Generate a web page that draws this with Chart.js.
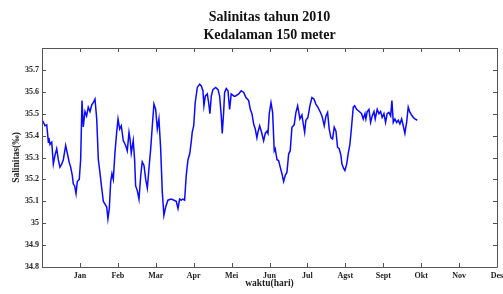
<!DOCTYPE html>
<html>
<head>
<meta charset="utf-8">
<script src="https://cdn.jsdelivr.net/npm/chart.js@4"></script>
<style>
  body { margin: 0; background: #fff; }
</style>
</head>
<body>
<canvas id="salinitas" width="503" height="294"></canvas>
<script>
"use strict";

const days = [
    0.6, 2.4, 3.8, 4.3, 5.1, 5.6, 6.4, 7.8, 9.1, 10.4, 11.8, 13.1, 14.4, 15.8, 17.1, 19.0, 20.3, 21.9, 23.0, 24.3,
    25.1, 26.2, 27.3, 28.3, 29.9, 31.0, 32.1, 33.1, 34.5, 35.8, 37.1, 38.5, 39.9, 41.1, 42.5, 43.9, 45.2, 46.5, 47.9, 49.2,
    51.9, 52.9, 54.0, 55.1, 56.1, 57.2, 58.5, 59.9, 61.0, 62.3, 63.6, 65.2, 67.1, 68.4, 69.8, 70.6, 71.6, 73.2, 74.3, 75.1,
    76.4, 77.8, 79.2, 80.4, 81.8, 83.2, 84.5, 85.8, 87.2, 88.5, 89.8, 91.2, 92.5, 93.8, 95.2, 96.5, 97.8, 99.2, 101.0,
    103.6, 105.9, 107.7, 109.1, 110.4, 111.7, 113.1, 114.4, 115.7, 117.1, 118.5, 119.7, 120.5, 121.7, 122.9, 124.6, 126.5,
    127.8, 129.1, 129.9, 131.0, 132.6, 133.7, 134.7, 135.8, 137.1, 139.3, 141.2, 142.5, 143.8, 144.6, 145.7, 146.5, 147.8,
    149.2, 150.5, 151.8, 154.0,
    155.0, 157.8, 159.8, 161.8, 163.6, 165.8, 167.1, 168.4, 169.8, 171.1, 172.4, 173.2, 174.6, 175.9, 177.8, 179.1, 180.5,
    181.3, 182.3, 183.7, 185.0, 186.3, 187.1, 188.5, 189.8, 191.1, 192.5, 193.8, 195.1, 196.5, 197.9, 199.1, 200.5, 202.3,
    203.7, 205.1,
    205.9, 206.9, 208.5, 209.6, 210.7, 211.7, 213.3, 214.9, 216.5, 218.1, 219.7, 221.4, 223.0, 224.6, 226.4, 227.8, 229.1,
    230.4, 231.8, 233.1, 234.4, 235.8, 237.1, 238.4, 239.8, 240.6, 242.0, 243.0, 244.4, 245.7, 247.0, 248.4, 249.7, 250.8,
    252.4, 254.5,
    256.4, 257.7, 259.1, 259.8, 260.9, 262.3, 263.6, 264.9, 266.3, 267.3, 268.9, 270.3, 271.6, 272.9, 274.3, 275.6, 276.9,
    278.3, 279.7, 280.7, 281.8, 283.1, 284.5, 285.8, 287.1, 288.5, 289.8, 291.1, 292.5, 293.8, 295.2, 296.5, 297.8, 299.2,
    301.0
];

const salinity = [
    35.468, 35.445, 35.449, 35.42, 35.37, 35.39, 35.36, 35.37, 35.27, 35.31, 35.34, 35.29, 35.256, 35.27, 35.29, 35.355, 35.32, 35.276, 35.256, 35.218,
    35.18, 35.17, 35.135, 35.19, 35.20, 35.29, 35.56, 35.44, 35.51, 35.49, 35.53, 35.51, 35.54, 35.55, 35.567, 35.476, 35.29, 35.23, 35.16, 35.10,
    35.074, 35.02, 35.067, 35.19, 35.226, 35.20, 35.32, 35.415, 35.476, 35.43, 35.445, 35.377, 35.355, 35.33, 35.415, 35.385, 35.32, 35.377, 35.29, 35.17,
    35.15, 35.11, 35.218, 35.28, 35.264, 35.20, 35.16, 35.25, 35.34, 35.445, 35.544, 35.52, 35.43, 35.476, 35.34, 35.142, 35.036, 35.074, 35.105,
    35.11, 35.105, 35.10, 35.067, 35.11, 35.105, 35.11, 35.105, 35.218, 35.29, 35.317, 35.37, 35.415, 35.445, 35.55, 35.62, 35.635,
    35.627, 35.605, 35.536, 35.58, 35.59, 35.55, 35.50, 35.58, 35.61, 35.62, 35.61, 35.58, 35.49, 35.41, 35.506, 35.597, 35.615,
    35.605, 35.52, 35.59, 35.58,
    35.58, 35.59, 35.605, 35.597, 35.574, 35.56, 35.52, 35.50, 35.453, 35.43, 35.39, 35.415, 35.445, 35.42, 35.377, 35.41, 35.42,
    35.41, 35.50, 35.55, 35.506, 35.33, 35.34, 35.29, 35.286, 35.256, 35.226, 35.19, 35.218, 35.233, 35.317, 35.33, 35.438, 35.449,
    35.506, 35.536,
    35.51, 35.476, 35.494, 35.453, 35.415, 35.47, 35.483, 35.536, 35.574, 35.567, 35.544, 35.529, 35.51, 35.49, 35.445, 35.49, 35.506,
    35.43, 35.39, 35.385, 35.438, 35.42, 35.347, 35.34, 35.31, 35.27, 35.25, 35.24, 35.27, 35.32, 35.36, 35.445, 35.53, 35.536,
    35.52, 35.51,
    35.50, 35.476, 35.50, 35.476, 35.51, 35.52, 35.46, 35.49, 35.51, 35.476, 35.52, 35.50, 35.51, 35.483, 35.50, 35.46, 35.50,
    35.506, 35.49, 35.56, 35.46, 35.476, 35.46, 35.47, 35.453, 35.476, 35.445, 35.41, 35.46, 35.53, 35.506, 35.494, 35.483, 35.476,
    35.47
];

const monthLabels = ["", "Jan", "Feb", "Mar", "Apr", "Mei", "Jun", "Jul", "Agst", "Sept", "Okt", "Nov", "Des"];
const yTicks = [34.8, 34.9, 35, 35.1, 35.2, 35.3, 35.4, 35.5, 35.6, 35.7, 35.8];

const YEAR_DAYS = 365;
const serif = "'Liberation Serif', 'Times New Roman', serif";

function monthTicks() {
    return monthLabels.map((label, i) => ({ value: i * YEAR_DAYS / 12 }));
}

// matlab style box with ticks pointing inwards
const boxTicks = {
    id: "boxTicks",
    afterDraw(chart) {
        const { ctx, chartArea: a, scales } = chart;
        const len = 4;
        ctx.save();
        ctx.strokeStyle = "#555";
        ctx.lineWidth = 1;
        ctx.beginPath();
        ctx.rect(a.left + 0.5, a.top + 0.5, a.right - a.left, a.bottom - a.top);
        scales.x.ticks.forEach(t => {
            const px = Math.round(scales.x.getPixelForValue(t.value)) + 0.5;
            ctx.moveTo(px, a.bottom);
            ctx.lineTo(px, a.bottom - len);
            ctx.moveTo(px, a.top);
            ctx.lineTo(px, a.top + len);
        });
        scales.y.ticks.forEach(t => {
            const py = Math.round(scales.y.getPixelForValue(t.value)) + 0.5;
            ctx.moveTo(a.left, py);
            ctx.lineTo(a.left + len, py);
            ctx.moveTo(a.right, py);
            ctx.lineTo(a.right - len, py);
        });
        ctx.stroke();
        ctx.restore();
    }
};

function buildData() {
    return {
        datasets: [{
            data: days.map((d, i) => ({ x: d, y: salinity[i] })),
            borderColor: "#0a0aff",
            borderWidth: 1.5,
            pointRadius: 0,
            tension: 0
        }]
    };
}

function getX() {
    return {
        type: "linear",
        min: 0,
        max: YEAR_DAYS,
        afterBuildTicks(scale) { scale.ticks = monthTicks(); },
        afterFit(scale) {
            scale.height = 27;
            scale.paddingLeft = 0;
            scale.paddingRight = 6;
        },
        grid: { display: false, drawTicks: false, tickLength: 0 },
        border: { display: false },
        ticks: {
            autoSkip: false,
            maxRotation: 0,
            padding: 4,
            color: "#222",
            font: { family: serif, size: 8, weight: "bold" },
            callback: (value, index) => monthLabels[index]
        },
        title: {
            display: true,
            text: "waktu(hari)",
            color: "#222",
            padding: { top: 0, bottom: 5 },
            font: { family: serif, size: 9.5, weight: "bold" }
        }
    };
}

function getY() {
    return {
        min: 34.8,
        max: 35.8,
        afterBuildTicks(scale) { scale.ticks = yTicks.map(v => ({ value: v })); },
        afterFit(scale) { scale.width = 36; },
        grid: { display: false, drawTicks: false, tickLength: 0 },
        border: { display: false },
        ticks: {
            padding: 3,
            color: "#222",
            font: { family: serif, size: 8, weight: "bold" },
            callback: value => (value >= 35.79 ? "" : String(Math.round(value * 10) / 10))
        },
        title: {
            display: true,
            text: "Salinitas(‰)",
            color: "#222",
            padding: { top: 5, bottom: 0 },
            font: { family: serif, size: 9.5, weight: "bold" }
        }
    };
}

function linechart() {
    const ctx = document.querySelector("#salinitas").getContext("2d");
    new Chart(ctx, {
        type: "line",
        data: buildData(),
        options: {
            responsive: false,
            animation: false,
            layout: { padding: { left: 6, right: 0, top: 0, bottom: 0 } },
            scales: { x: getX(), y: getY() },
            plugins: {
                legend: { display: false },
                tooltip: { enabled: false },
                title: {
                    display: true,
                    fullSize: false,
                    text: ["Salinitas tahun 2010", "Kedalaman 150 meter"],
                    color: "#111",
                    padding: { top: 9, bottom: 4 },
                    font: { family: serif, size: 14, weight: "bold", lineHeight: 1.25 }
                }
            }
        },
        plugins: [boxTicks]
    });
}

linechart();
</script>
</body>
</html>
